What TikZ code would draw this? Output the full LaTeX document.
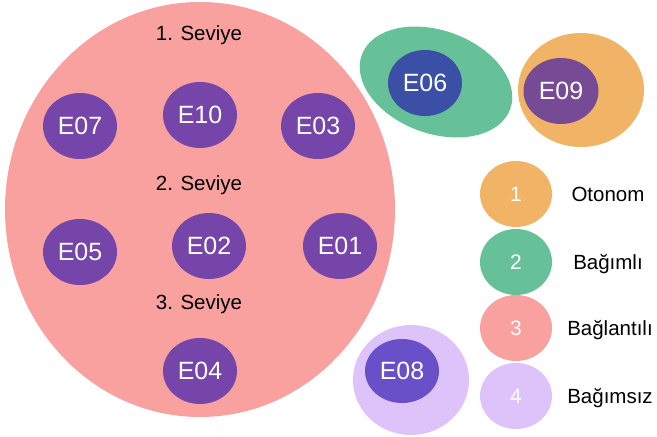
\documentclass[tikz,border=0pt]{standalone}
\usepackage{fontspec}
\setmainfont{Liberation Sans}
\definecolor{cpink}{HTML}{F9A19F}
\definecolor{cpurple}{HTML}{7645A9}
\definecolor{cgreen}{HTML}{66C199}
\definecolor{cblue}{HTML}{3B4FA6}
\definecolor{corange}{HTML}{F1B466}
\definecolor{cplum}{HTML}{764A94}
\definecolor{clav}{HTML}{DDC3F9}
\definecolor{cviolet}{HTML}{6A50C8}
\tikzset{
  blob/.style={ellipse, inner sep=0pt, draw=none},
  ebox/.style={blob, fill=cpurple, minimum width=74pt, minimum height=66pt,
    text=white, font=\fontsize{25}{25}\selectfont, text height=17.9pt, text depth=0pt},
  levellabel/.style={inner sep=0pt, font=\fontsize{20.5}{20.5}\selectfont,
    text height=14.7pt, text depth=0pt},
  legendbox/.style={blob, minimum width=72pt, minimum height=66pt, text=white,
    font=\fontsize{21}{21}\selectfont, text height=15pt, text depth=0pt},
  legendlabel/.style={inner sep=0pt, font=\fontsize{20.5}{20.5}\selectfont,
    text height=14.7pt, text depth=0pt}
}
\usetikzlibrary{shapes.geometric}
\begin{document}
\begin{tikzpicture}[x=1pt,y=1pt]
\useasboundingbox (0,0) rectangle (657,437);
% group 3: connected activities
\node[blob, fill=cpink, minimum width=390pt, minimum height=415pt] (grp3) at (200,227.5) {};
\node[levellabel] (lv1) at (199,404) {1. Seviye};
\node[levellabel] (lv2) at (199,254) {2. Seviye};
\node[levellabel] (lv3) at (199,135) {3. Seviye};
\node[ebox] (e07) at (80,311) {E07};
\node[ebox] (e10) at (200,322) {E10};
\node[ebox] (e03) at (318,311) {E03};
\node[ebox] (e05) at (80,185) {E05};
\node[ebox] (e02) at (209,191) {E02};
\node[ebox] (e01) at (340,191) {E01};
\node[ebox] (e04) at (200,66) {E04};
% group 2: dependent
\node[blob, fill=cgreen, minimum width=158pt, minimum height=103pt, rotate=-20] (grp2) at (436,355) {};
\node[ebox, fill=cblue] (e06) at (425,354) {E06};
% group 1: autonomous
\node[blob, fill=corange, minimum width=126pt, minimum height=114pt] (grp1) at (581,347) {};
\node[ebox, fill=cplum, minimum width=75pt] (e09) at (561,346) {E09};
% group 4: independent
\node[blob, fill=clav, minimum width=116pt, minimum height=110pt] (grp4) at (411,57) {};
\node[ebox, fill=cviolet, minimum height=64pt] (e08) at (402,66) {E08};
% legend
\node[legendbox, fill=corange] (k1) at (516,243) {1};
\node[legendbox, fill=cgreen] (k2) at (516,175) {2};
\node[legendbox, fill=cpink] (k3) at (516,109) {3};
\node[legendbox, fill=clav] (k4) at (516,41) {4};
\node[legendlabel] (t1) at (608,243) {Otonom};
\node[legendlabel] (t2) at (608,175) {Bağımlı};
\node[legendlabel] (t3) at (610,109) {Bağlantılı};
\node[legendlabel] (t4) at (610,41) {Bağımsız};
\end{tikzpicture}
\end{document}
